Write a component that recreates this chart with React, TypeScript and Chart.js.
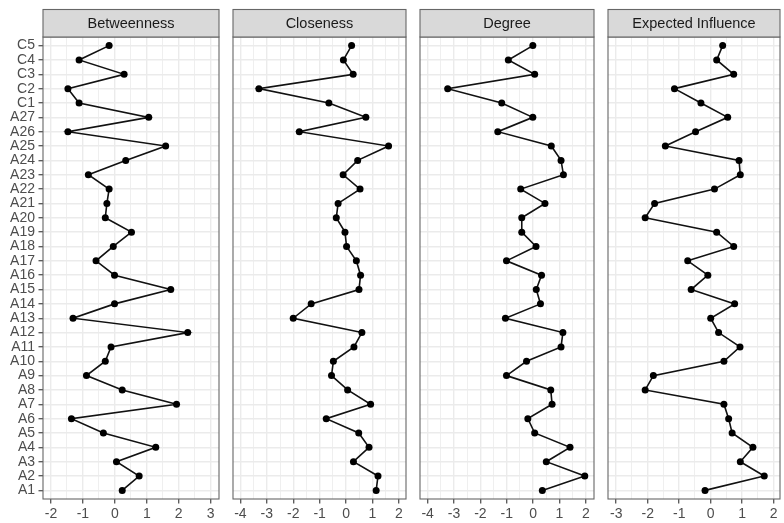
import React, { useEffect, useRef } from 'react';
import { Chart, registerables } from 'chart.js';

Chart.register(...registerables);

const nodes = [
  'A1', 'A2', 'A3', 'A4', 'A5', 'A6', 'A7', 'A8', 'A9', 'A10',
  'A11', 'A12', 'A13', 'A14', 'A15', 'A16', 'A17', 'A18', 'A19', 'A20',
  'A21', 'A22', 'A23', 'A24', 'A25', 'A26', 'A27',
  'C1', 'C2', 'C3', 'C4', 'C5',
];

const betweenness = [
  0.23, 0.76, 0.05, 1.28, -0.36, -1.36, 1.93, 0.23, -0.89, -0.30,
  -0.12, 2.28, -1.31, -0.01, 1.75, -0.01, -0.59, -0.05, 0.52, -0.30,
  -0.25, -0.18, -0.83, 0.34, 1.59, -1.47, 1.06,
  -1.12, -1.47, 0.29, -1.12, -0.18,
];

const closeness = [
  1.14, 1.21, 0.28, 0.87, 0.48, -0.75, 0.93, 0.06, -0.55, -0.48,
  0.30, 0.60, -2.00, -1.32, 0.49, 0.55, 0.39, 0.02, -0.04, -0.37,
  -0.30, 0.53, -0.11, 0.44, 1.61, -1.77, 0.75,
  -0.65, -3.30, 0.27, -0.10, 0.21,
];

const degree = [
  0.35, 1.96, 0.50, 1.40, 0.06, -0.20, 0.72, 0.67, -1.01, -0.25,
  1.06, 1.13, -1.05, 0.28, 0.12, 0.32, -1.01, 0.11, -0.43, -0.43,
  0.45, -0.47, 1.15, 1.06, 0.69, -1.34, -0.01,
  -1.19, -3.24, 0.06, -0.94, -0.01,
];

const expectedInfluence = [
  -0.18, 1.70, 0.94, 1.34, 0.68, 0.57, 0.42, -2.08, -1.82, 0.42,
  0.93, 0.25, 0.00, 0.76, -0.62, -0.09, -0.73, 0.73, 0.19, -2.08,
  -1.78, 0.12, 0.94, 0.90, -1.44, -0.48, 0.54,
  -0.31, -1.15, 0.73, 0.19, 0.38,
];

const panelTitles = ['Betweenness', 'Closeness', 'Degree', 'Expected Influence'];
const panelValues = [betweenness, closeness, degree, expectedInfluence];
const xMins = [-2.25, -4.28, -4.29, -3.26];
const xMaxs = [3.26, 2.27, 2.31, 2.2];

const FONT = '"Liberation Sans", Arial, Helvetica, sans-serif';
const CANVAS_H = 523;

// layout of each panel's canvas
const layouts = [
  { canvasLeft: 0, canvasWidth: 223, yAxisWidth: 43, padLeft: 0, padRight: 2 },
  { canvasLeft: 229, canvasWidth: 181, yAxisWidth: 0, padLeft: 2, padRight: 2 },
  { canvasLeft: 416, canvasWidth: 182, yAxisWidth: 0, padLeft: 2, padRight: 2 },
  { canvasLeft: 604, canvasWidth: 180, yAxisWidth: 0, padLeft: 2, padRight: 1 },
];

const isWhole = (v: number) => Math.abs(v - Math.round(v)) < 1e-9;

const stripPlugin = {
  id: 'strip',
  afterDraw(chart: any, _args: any, opts: any) {
    const { ctx, chartArea } = chart;
    const { left, right, top, bottom } = chartArea;
    ctx.save();
    ctx.strokeStyle = '#666666';
    ctx.lineWidth = 1.1;
    ctx.strokeRect(left, top, right - left, bottom - top);
    const sTop = 9.5;
    ctx.fillStyle = '#D9D9D9';
    ctx.fillRect(left, sTop, right - left, top - sTop);
    ctx.strokeRect(left, sTop, right - left, top - sTop);
    ctx.fillStyle = '#1A1A1A';
    ctx.font = `14.5px ${FONT}`;
    ctx.textAlign = 'center';
    ctx.textBaseline = 'middle';
    ctx.fillText(opts.title, (left + right) / 2, (sTop + top) / 2 + 0.5);
    ctx.restore();
  },
};

function Panel({ index }: { index: number }) {
  const ref = useRef<HTMLCanvasElement | null>(null);
  const lay = layouts[index];
  useEffect(() => {
    if (!ref.current) return;
    const values = panelValues[index];
    const showY = index === 0;
    const chart = new Chart(ref.current, {
      type: 'scatter',
      data: {
        datasets: [
          {
            data: values.map((v, i) => ({ x: v, y: i })),
            showLine: true,
            borderColor: '#111111',
            backgroundColor: '#000000',
            borderWidth: 1.6,
            pointRadius: 3.5,
            pointBackgroundColor: '#000000',
            pointBorderColor: '#000000',
            pointBorderWidth: 0,
            tension: 0,
          },
        ],
      },
      options: {
        animation: false,
        responsive: false,
        maintainAspectRatio: false,
        devicePixelRatio: 1,
        events: [],
        layout: { padding: { top: 37, bottom: 0, left: lay.padLeft, right: lay.padRight } },
        plugins: {
          legend: { display: false },
          tooltip: { enabled: false },
          title: { display: false },
          strip: { title: panelTitles[index] },
        } as any,
        scales: {
          x: {
            type: 'linear',
            min: xMins[index],
            max: xMaxs[index],
            border: { display: false },
            grid: {
              color: '#EBEBEB',
              lineWidth: (c: any) => (isWhole(c.tick.value) ? 1.4 : 0.8),
              drawTicks: true,
              tickLength: 4.5,
              tickColor: (c: any) => (isWhole(c.tick.value) ? '#555555' : 'rgba(0,0,0,0)'),
              tickWidth: 1.3,
            },
            ticks: {
              stepSize: 0.5,
              includeBounds: false,
              autoSkip: false,
              maxRotation: 0,
              minRotation: 0,
              padding: 2.5,
              color: '#4D4D4D',
              font: { family: FONT, size: 14 },
              callback: (v: any) => (isWhole(Number(v)) ? String(Math.round(Number(v))) : ''),
            },
            afterFit: (s: any) => {
              s.height = 24;
            },
          },
          y: {
            type: 'linear',
            min: -0.6,
            max: nodes.length - 1 + 0.6,
            border: { display: false },
            grid: {
              color: '#EBEBEB',
              lineWidth: 1.4,
              drawTicks: showY,
              tickLength: 4.5,
              tickColor: '#555555',
              tickWidth: 1.3,
            },
            ticks: {
              display: showY,
              stepSize: 1,
              includeBounds: false,
              autoSkip: false,
              padding: 3.5,
              color: '#4D4D4D',
              font: { family: FONT, size: 14 },
              callback: (v: any) => nodes[Math.round(Number(v))] ?? '',
            },
            afterFit: (s: any) => {
              s.width = lay.yAxisWidth;
            },
          },
        },
      } as any,
      plugins: [stripPlugin],
    });
    return () => chart.destroy();
  }, [index]);

  return (
    <canvas
      ref={ref}
      width={lay.canvasWidth}
      height={CANVAS_H}
      style={{
        position: 'absolute',
        left: lay.canvasLeft,
        top: 0,
        width: lay.canvasWidth,
        height: CANVAS_H,
        display: 'block',
      }}
    />
  );
}

export default function App() {
  return (
    <div
      style={{
        position: 'absolute',
        left: 0,
        top: 0,
        width: 784,
        height: CANVAS_H,
        background: '#FFFFFF',
        overflow: 'hidden',
      }}
    >
      {panelTitles.map((_, i) => (
        <Panel key={i} index={i} />
      ))}
    </div>
  );
}
